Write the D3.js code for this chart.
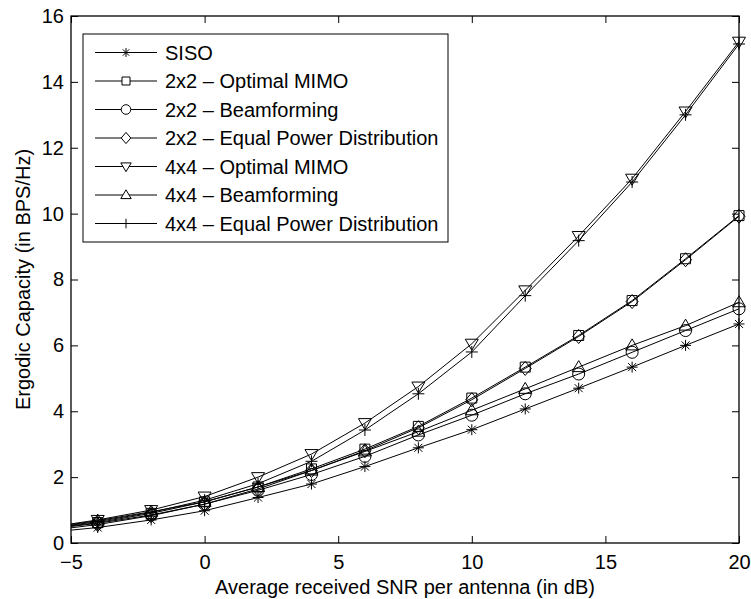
<!DOCTYPE html>
<html>
<head>
<meta charset="utf-8">
<script src="https://cdn.jsdelivr.net/npm/d3@7/dist/d3.min.js"></script>
<style>
  body { margin: 0; background: #fff; }
  svg text { font-family: "Liberation Sans", Arial, Helvetica, sans-serif; fill: #000; }
</style>
</head>
<body>
<svg id="chart" width="751" height="599"></svg>
<script>
// SNR values (dB); first point (-5) has no marker
var snr = [-5, -4, -2, 0, 2, 4, 6, 8, 10, 12, 14, 16, 18, 20];

var siso      = [0.39, 0.47, 0.70, 0.98, 1.38, 1.79, 2.32, 2.89, 3.44, 4.07, 4.70, 5.34, 6.00, 6.65];
var opt2x2    = [0.52, 0.62, 0.90, 1.25, 1.70, 2.25, 2.85, 3.54, 4.40, 5.34, 6.30, 7.36, 8.63, 9.94];
var bf2x2     = [0.50, 0.60, 0.85, 1.18, 1.60, 2.08, 2.63, 3.28, 3.88, 4.53, 5.13, 5.79, 6.45, 7.11];
var epd2x2    = [0.46, 0.56, 0.83, 1.18, 1.64, 2.20, 2.80, 3.50, 4.35, 5.30, 6.27, 7.33, 8.60, 9.92];
var opt4x4    = [0.58, 0.70, 1.00, 1.41, 2.00, 2.70, 3.64, 4.75, 6.05, 7.67, 9.32, 11.06, 13.10, 15.22];
var bf4x4     = [0.56, 0.68, 0.95, 1.25, 1.70, 2.20, 2.78, 3.38, 4.03, 4.68, 5.34, 6.00, 6.60, 7.31];
var epd4x4    = [0.54, 0.65, 0.93, 1.30, 1.80, 2.48, 3.43, 4.53, 5.80, 7.51, 9.18, 10.96, 13.00, 15.15];

var seriesNames = ["SISO", "2x2 \u2013 Optimal MIMO", "2x2 \u2013 Beamforming", "2x2 \u2013 Equal Power Distribution",
                   "4x4 \u2013 Optimal MIMO", "4x4 \u2013 Beamforming", "4x4 \u2013 Equal Power Distribution"];
var seriesValues = [siso, opt2x2, bf2x2, epd2x2, opt4x4, bf4x4, epd4x4];
var seriesMarkers = ["star", "square", "circle", "diamond", "tdown", "tup", "plus"];

var xTicks = [-5, 0, 5, 10, 15, 20];
var yTicks = [0, 2, 4, 6, 8, 10, 12, 14, 16];

var svg = d3.select("#chart");
var mLeft = 71, mRight = 739, mTop = 16, mBottom = 543;

var x = d3.scaleLinear().domain([-5, 20]).range([mLeft, mRight]);
var y = d3.scaleLinear().domain([0, 16]).range([mBottom, mTop]);

// marker shapes as path strings centered at 0,0, scaled by s
function markerPath(type, s) {
  var p = d3.path();
  switch (type) {
    case "star":
      p.moveTo(-5.5 * s, 0); p.lineTo(5.5 * s, 0);
      p.moveTo(0, -5.5 * s); p.lineTo(0, 5.5 * s);
      p.moveTo(-4 * s, -4 * s); p.lineTo(4 * s, 4 * s);
      p.moveTo(-4 * s, 4 * s); p.lineTo(4 * s, -4 * s);
      break;
    case "plus":
      p.moveTo(-6 * s, 0); p.lineTo(6 * s, 0);
      p.moveTo(0, -6 * s); p.lineTo(0, 6 * s);
      break;
    case "square":
      p.rect(-5 * s, -5 * s, 10 * s, 10 * s);
      break;
    case "circle":
      p.arc(0, 0, 6 * s, 0, 2 * Math.PI);
      break;
    case "diamond":
      p.moveTo(0, -7 * s); p.lineTo(6 * s, 0); p.lineTo(0, 7 * s); p.lineTo(-6 * s, 0); p.closePath();
      break;
    case "tdown":
      p.moveTo(-6.5 * s, -4.5 * s); p.lineTo(6.5 * s, -4.5 * s); p.lineTo(0, 6.5 * s); p.closePath();
      break;
    case "tup":
      p.moveTo(-6.5 * s, 4.5 * s); p.lineTo(6.5 * s, 4.5 * s); p.lineTo(0, -6.5 * s); p.closePath();
      break;
  }
  return p.toString();
}

var plot = svg.append("g");
plot.append("clipPath").attr("id", "clip")
  .append("rect").attr("x", mLeft).attr("y", mTop).attr("width", mRight - mLeft).attr("height", mBottom - mTop);

var line = d3.line()
  .x(function(d, i) { return x(snr[i]); })
  .y(function(d) { return y(d); });

seriesValues.forEach(function(vals, k) {
  var g = plot.append("g");
  g.append("path")
    .attr("d", line(vals))
    .attr("fill", "none")
    .attr("stroke", "#000")
    .attr("stroke-width", 1)
    .attr("clip-path", "url(#clip)");
  g.selectAll("path.mk")
    .data(vals.slice(1))
    .enter().append("path")
    .attr("class", "mk")
    .attr("d", markerPath(seriesMarkers[k], 1))
    .attr("transform", function(d, i) { return "translate(" + x(snr[i + 1]) + "," + y(d) + ")"; })
    .attr("fill", "none")
    .attr("stroke", "#000")
    .attr("stroke-width", 1);
});

// axes box with inward ticks on all sides
var axB = d3.axisBottom(x).tickValues(xTicks).tickSizeInner(-7).tickSizeOuter(0).tickPadding(12)
  .tickFormat(function(d) { return d < 0 ? "\u2212" + Math.abs(d) : d; });
var axT = d3.axisTop(x).tickValues(xTicks).tickSizeInner(-7).tickSizeOuter(0).tickFormat("");
var axL = d3.axisLeft(y).tickValues(yTicks).tickSizeInner(-7).tickSizeOuter(0).tickPadding(7);
var axR = d3.axisRight(y).tickValues(yTicks).tickSizeInner(-7).tickSizeOuter(0).tickFormat("");

function styleAxis(g) {
  g.select(".domain").remove();
  g.selectAll("line").attr("stroke", "#000");
  g.selectAll("text").attr("font-size", 20).attr("font-family", "Liberation Sans, Arial, sans-serif");
}

svg.append("g").attr("transform", "translate(0," + mBottom + ")").call(axB).call(styleAxis);
svg.append("g").attr("transform", "translate(0," + mTop + ")").call(axT).call(styleAxis);
svg.append("g").attr("transform", "translate(" + mLeft + ",0)").call(axL).call(styleAxis);
svg.append("g").attr("transform", "translate(" + mRight + ",0)").call(axR).call(styleAxis);

svg.append("rect")
  .attr("x", mLeft).attr("y", mTop).attr("width", mRight - mLeft).attr("height", mBottom - mTop)
  .attr("fill", "none").attr("stroke", "#000").attr("stroke-width", 1.3);

// axis labels
svg.append("text")
  .attr("x", (mLeft + mRight) / 2).attr("y", 594)
  .attr("text-anchor", "middle").attr("font-size", 20)
  .text("Average received SNR per antenna (in dB)");
svg.append("text")
  .attr("transform", "translate(30," + ((mTop + mBottom) / 2) + ") rotate(-90)")
  .attr("text-anchor", "middle").attr("font-size", 20)
  .text("Ergodic Capacity (in BPS/Hz)");

// legend
var lg = svg.append("g");
lg.append("rect")
  .attr("x", 83).attr("y", 34).attr("width", 365).attr("height", 208)
  .attr("fill", "#fff").attr("stroke", "#000").attr("stroke-width", 1);

seriesNames.forEach(function(name, k) {
  var yy = 52.5 + k * 28.5;
  lg.append("line").attr("x1", 95).attr("x2", 157).attr("y1", yy).attr("y2", yy)
    .attr("stroke", "#000").attr("stroke-width", 1);
  lg.append("path").attr("d", markerPath(seriesMarkers[k], 0.8))
    .attr("transform", "translate(126," + yy + ")")
    .attr("fill", "#fff").attr("stroke", "#000").attr("stroke-width", 1);
  lg.append("text").attr("x", 165).attr("y", yy + 7).attr("font-size", 20).text(name);
});
</script>
</body>
</html>
